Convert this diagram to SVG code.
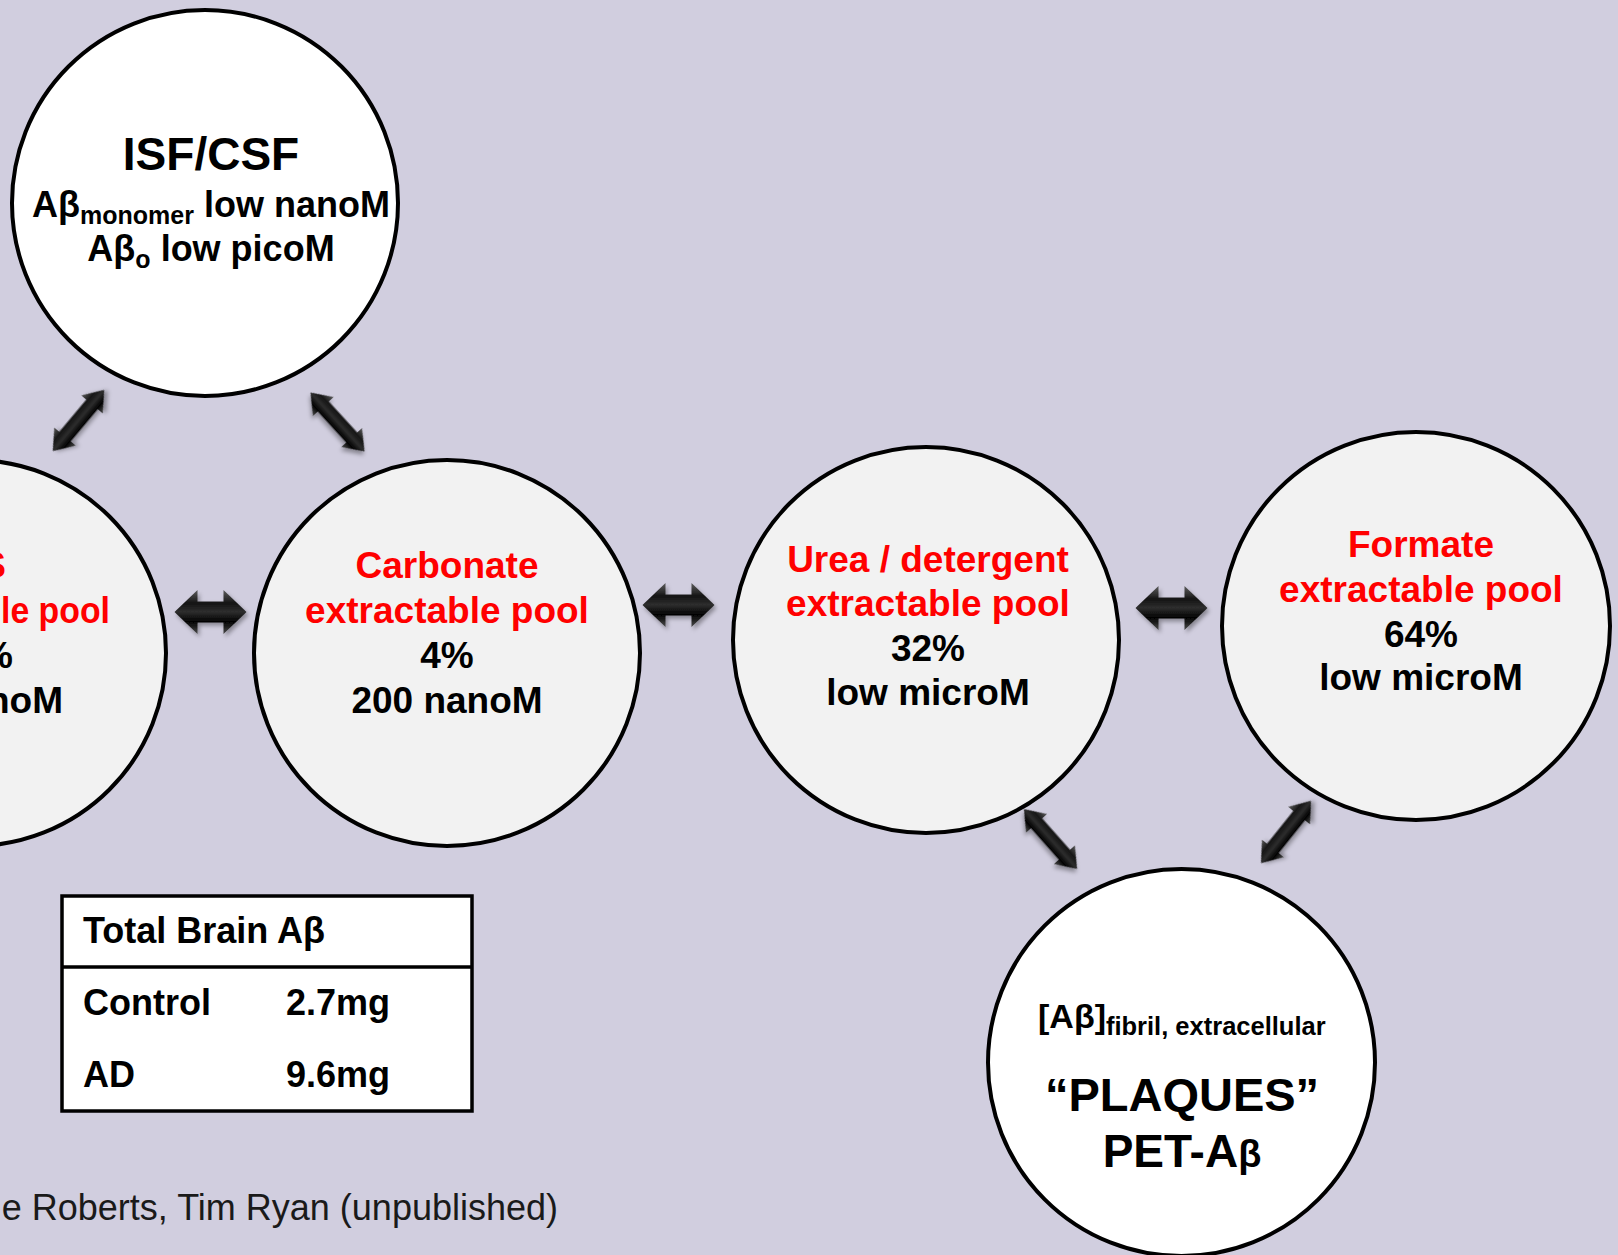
<svg xmlns="http://www.w3.org/2000/svg" width="1618" height="1255" viewBox="0 0 1618 1255">
<style>
  .node { stroke: #000; stroke-width: 4; }
  .white { fill: #ffffff; }
  .pool { fill: #f2f2f2; }
  text { font-family: "Liberation Sans", Arial, sans-serif; font-weight: bold; fill: #000; }
  .red { fill: #ff0000; font-size: 37px; text-anchor: middle; }
  .blk { font-size: 37px; text-anchor: middle; }
  .frag { text-anchor: end; }
  .fragstart { text-anchor: start; }
  .tbl { font-size: 36px; }
  .foot { font-weight: normal; font-size: 36px; fill: #1a1a1a; text-anchor: end; }
  .arrow { fill: url(#arrowGrad); filter: url(#shadow); }
</style>
<defs>
  <linearGradient id="arrowGrad" x1="0" y1="0" x2="0" y2="1">
    <stop offset="0" stop-color="#5c5c5c"/>
    <stop offset="0.3" stop-color="#151515"/>
    <stop offset="0.5" stop-color="#2e2e2e"/>
    <stop offset="0.72" stop-color="#020202"/>
    <stop offset="1" stop-color="#4a4a4a"/>
  </linearGradient>
  <filter id="shadow" x="-30%" y="-50%" width="160%" height="200%">
    <feDropShadow dx="2" dy="3" stdDeviation="2" flood-color="#000" flood-opacity="0.35"/>
  </filter>
  <path id="hArrow" d="M -36,0 L -13,-22 L -13,-10.5 L 13,-10.5 L 13,-22 L 36,0 L 13,22 L 13,10.5 L -13,10.5 L -13,22 Z"/>
  <path id="dArrow" d="M -40,0 L -21,-14 L -21,-7.5 L 21,-7.5 L 21,-14 L 40,0 L 21,14 L 21,7.5 L -21,7.5 L -21,14 Z"/>
</defs>

<rect x="0" y="0" width="1618" height="1255" fill="#d1cedf"/>

<g id="connectors">
  <use href="#dArrow" class="arrow" transform="translate(78.5,420.5) rotate(-50)"/>
  <use href="#dArrow" class="arrow" transform="translate(337.5,422) rotate(47.5)"/>
  <use href="#hArrow" class="arrow" transform="translate(210.5,612)"/>
  <use href="#hArrow" class="arrow" transform="translate(678.5,605)"/>
  <use href="#hArrow" class="arrow" transform="translate(1171.5,608)"/>
  <use href="#dArrow" class="arrow" transform="translate(1050.5,839) rotate(48.4)"/>
  <use href="#dArrow" class="arrow" transform="translate(1286,832) rotate(-51.3)"/>
</g>

<g id="node-isf">
  <circle class="node white" cx="205" cy="203" r="193"/>
  <text x="211" y="170" font-size="46" text-anchor="middle">ISF/CSF</text>
  <text x="211" y="217" font-size="36" text-anchor="middle">Aβ<tspan font-size="25" dy="7">monomer</tspan><tspan dy="-7"> low nanoM</tspan></text>
  <text x="211" y="261" font-size="36" text-anchor="middle">Aβ<tspan font-size="25" dy="7">o</tspan><tspan dy="-7"> low picoM</tspan></text>
</g>

<g id="node-left">
  <circle class="node pool" cx="-27" cy="653" r="193"/>
  <text class="red frag" x="6" y="578">S</text>
  <text class="red fragstart" x="1" y="623" textLength="109" lengthAdjust="spacingAndGlyphs">le pool</text>
  <text class="blk frag" x="13" y="668">%</text>
  <text class="blk frag" x="63" y="713">noM</text>
</g>

<g id="node-carbonate">
  <circle class="node pool" cx="447" cy="653" r="193"/>
  <text class="red" x="447" y="578">Carbonate</text>
  <text class="red" x="447" y="623">extractable pool</text>
  <text class="blk" x="447" y="668">4%</text>
  <text class="blk" x="447" y="713">200 nanoM</text>
</g>

<g id="node-urea">
  <circle class="node pool" cx="926" cy="640" r="193"/>
  <text class="red" x="928" y="572">Urea / detergent</text>
  <text class="red" x="928" y="616">extractable pool</text>
  <text class="blk" x="928" y="661">32%</text>
  <text class="blk" x="928" y="705">low microM</text>
</g>

<g id="node-formate">
  <circle class="node pool" cx="1416" cy="626" r="194"/>
  <text class="red" x="1421" y="557">Formate</text>
  <text class="red" x="1421" y="602">extractable pool</text>
  <text class="blk" x="1421" y="647">64%</text>
  <text class="blk" x="1421" y="690">low microM</text>
</g>

<g id="node-plaques">
  <circle class="node white" cx="1181.5" cy="1062.5" r="193.5"/>
  <text x="1038" y="1028" font-size="34">[Aβ]<tspan font-size="25.5" dy="7">fibril, extracellular</tspan></text>
  <text x="1182" y="1111" font-size="47" text-anchor="middle">“PLAQUES”</text>
  <text x="1182" y="1167" font-size="46" text-anchor="middle">PET-A<tspan font-size="38">β</tspan></text>
</g>

<g id="table">
  <rect x="62" y="896" width="410" height="215" fill="#ffffff" stroke="#000" stroke-width="3.5"/>
  <line x1="62" y1="967" x2="472" y2="967" stroke="#000" stroke-width="3.5"/>
  <text class="tbl" x="83" y="943">Total Brain Aβ</text>
  <text class="tbl" x="83" y="1015">Control</text>
  <text class="tbl" x="286" y="1015">2.7mg</text>
  <text class="tbl" x="83" y="1087">AD</text>
  <text class="tbl" x="286" y="1087">9.6mg</text>
</g>

<text class="foot" x="558" y="1220">e Roberts, Tim Ryan (unpublished)</text>
</svg>
